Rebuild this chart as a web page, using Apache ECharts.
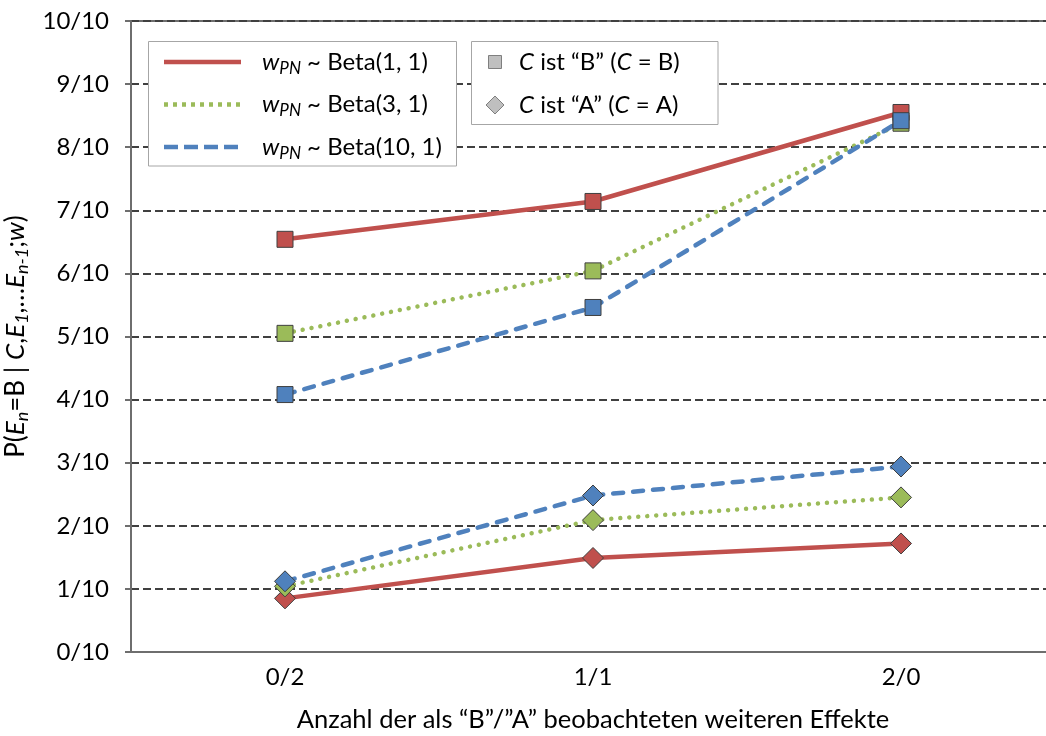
<!DOCTYPE html>
<html>
<head>
<meta charset="utf-8">
<script src="https://cdn.jsdelivr.net/npm/echarts@6/dist/echarts.min.js"></script>
<style>
  html, body { margin: 0; padding: 0; background: #fff; overflow: hidden; }
  #chart { width: 1046px; height: 736px; }
</style>
</head>
<body>
<div id="chart"></div>
<script>
// Categories: observed further effects as "B"/"A"
const categories = ['0/2', '1/1', '2/0'];

// Probabilities for C = B (squares)
const bBeta11 = [0.654, 0.714, 0.855];
const bBeta31 = [0.505, 0.604, 0.838];
const bBeta101 = [0.408, 0.546, 0.842];

// Probabilities for C = A (diamonds)
const aBeta11 = [0.085, 0.149, 0.172];
const aBeta31 = [0.104, 0.209, 0.245];
const aBeta101 = [0.112, 0.248, 0.294];

// Y tick values (tenths)
const yTicks = [0, 0.1, 0.2, 0.3, 0.4, 0.5, 0.6, 0.7, 0.8, 0.9, 1.0];

const FONT = 'Lato';
const RED = '#C0504D', GREEN = '#9BBB59', BLUE = '#4F81BD';
const MARK_BORDER = '#3f3f3f';

const styles = {
  b11: { color: RED, type: 'solid', cap: 'butt' },
  b31: { color: GREEN, type: [0.01, 9], cap: 'round' },
  b101: { color: BLUE, type: [10, 10], cap: 'round' }
};

function makeSeries(name, data, sty, symbol, size) {
  return {
    name: name,
    type: 'line',
    data: data,
    symbol: symbol,
    symbolSize: size,
    showAllSymbol: true,
    lineStyle: { color: sty.color, width: 4.5, type: sty.type, cap: sty.cap },
    itemStyle: { color: sty.color, borderColor: MARK_BORDER, borderWidth: 1 },
    emphasis: { disabled: true }
  };
}

const chart = echarts.init(document.getElementById('chart'), null, { renderer: 'canvas' });

function richSet(size, subSize) {
  return {
    n: { fontFamily: FONT, fontSize: size, color: '#000', lineHeight: size + 6 },
    i: { fontFamily: FONT, fontSize: size, color: '#000', fontStyle: 'italic', lineHeight: size + 6 },
    s: { fontFamily: FONT, fontSize: subSize, color: '#000', fontStyle: 'italic', lineHeight: subSize, verticalAlign: 'bottom' }
  };
}

const txt = richSet(24, 17);

const legendLines = [
  { y: 62, color: RED, dash: null, label: '{i|w}{s|PN}{n| ~ Beta(1, 1)}' },
  { y: 104.5, color: GREEN, dash: [4, 5], label: '{i|w}{s|PN}{n| ~ Beta(3, 1)}' },
  { y: 147, color: BLUE, dash: [14, 6], label: '{i|w}{s|PN}{n| ~ Beta(10, 1)}' }
];

const graphics = [
  {
    type: 'rect', z: 100,
    shape: { x: 148.5, y: 41.5, width: 308, height: 124.5 },
    style: { fill: '#fff', stroke: '#a6a6a6', lineWidth: 1 }
  },
  {
    type: 'rect', z: 100,
    shape: { x: 471.5, y: 41.5, width: 246.5, height: 83 },
    style: { fill: '#fff', stroke: '#a6a6a6', lineWidth: 1 }
  },
  {
    type: 'rect', z: 101,
    shape: { x: 488.5, y: 55.5, width: 13, height: 13 },
    style: { fill: '#bfbfbf', stroke: '#7f7f7f', lineWidth: 1 }
  },
  {
    type: 'polygon', z: 101,
    shape: { points: [[495, 96], [504, 105], [495, 114], [486, 105]] },
    style: { fill: '#bfbfbf', stroke: '#7f7f7f', lineWidth: 1 }
  },
  {
    type: 'text', z: 101, x: 519, y: 62,
    style: { text: '{i|C}{n| ist “B” (}{i|C}{n| = B)}', rich: txt, verticalAlign: 'middle', align: 'left' }
  },
  {
    type: 'text', z: 101, x: 519, y: 105,
    style: { text: '{i|C}{n| ist “A” (}{i|C}{n| = A)}', rich: txt, verticalAlign: 'middle', align: 'left' }
  }
];

legendLines.forEach(function (l) {
  graphics.push({
    type: 'line', z: 101,
    shape: { x1: 164, y1: l.y, x2: 241, y2: l.y },
    style: { stroke: l.color, lineWidth: 4.5, lineDash: l.dash, lineCap: 'butt' }
  });
  graphics.push({
    type: 'text', z: 101, x: 262, y: l.y,
    style: { text: l.label, rich: txt, verticalAlign: 'middle', align: 'left' }
  });
});

const option = {
  animation: false,
  backgroundColor: '#fff',
  grid: {
    left: 131, top: 21, width: 924, height: 631,
    outerBoundsMode: 'none',
    containLabel: false,
    show: true, borderColor: '#6e6e6e', borderWidth: 2, backgroundColor: 'transparent'
  },
  xAxis: {
    type: 'category',
    data: categories,
    boundaryGap: true,
    axisLine: { show: true, lineStyle: { color: '#6e6e6e', width: 2 } },
    axisTick: { show: false },
    axisLabel: { fontFamily: FONT, fontSize: 24, color: '#000', margin: 13 },
    splitLine: { show: false },
    name: 'Anzahl der als “B”/”A” beobachteten weiteren Effekte',
    nameLocation: 'middle',
    nameGap: 55,
    nameTextStyle: { fontFamily: FONT, fontSize: 25.5, color: '#000' }
  },
  yAxis: {
    type: 'value',
    min: 0, max: 1, interval: 0.1,
    axisLine: { show: true, lineStyle: { color: '#6e6e6e', width: 2 } },
    axisTick: { show: true, length: 6, lineStyle: { color: '#6e6e6e', width: 2 } },
    axisLabel: {
      fontFamily: FONT, fontSize: 24, color: '#000', margin: 22,
      formatter: function (v) {
        const k = yTicks.findIndex(function (t) { return Math.abs(t - v) < 1e-6; });
        return Math.round(yTicks[k] * 10) + '/10';
      }
    },
    splitLine: { show: true, lineStyle: { color: '#404040', width: 2, type: [8, 4] } },
    name: '{n|P(}{i|E}{s|n}{n|=B | }{i|C}{n|,}{i|E}{s|1}{n|,…}{i|E}{s|n-1}{n|;}{i|w}{n|)}',
    nameLocation: 'middle',
    nameRotate: 90,
    nameGap: 92,
    nameTextStyle: { rich: richSet(26, 18) }
  },
  series: [
    makeSeries('B Beta(1,1)', bBeta11, styles.b11, 'rect', 16),
    makeSeries('B Beta(3,1)', bBeta31, styles.b31, 'rect', 16),
    makeSeries('B Beta(10,1)', bBeta101, styles.b101, 'rect', 16),
    makeSeries('A Beta(1,1)', aBeta11, styles.b11, 'diamond', 21),
    makeSeries('A Beta(3,1)', aBeta31, styles.b31, 'diamond', 21),
    makeSeries('A Beta(10,1)', aBeta101, styles.b101, 'diamond', 21)
  ],
  graphic: graphics
};

chart.setOption(option);
</script>
</body>
</html>
